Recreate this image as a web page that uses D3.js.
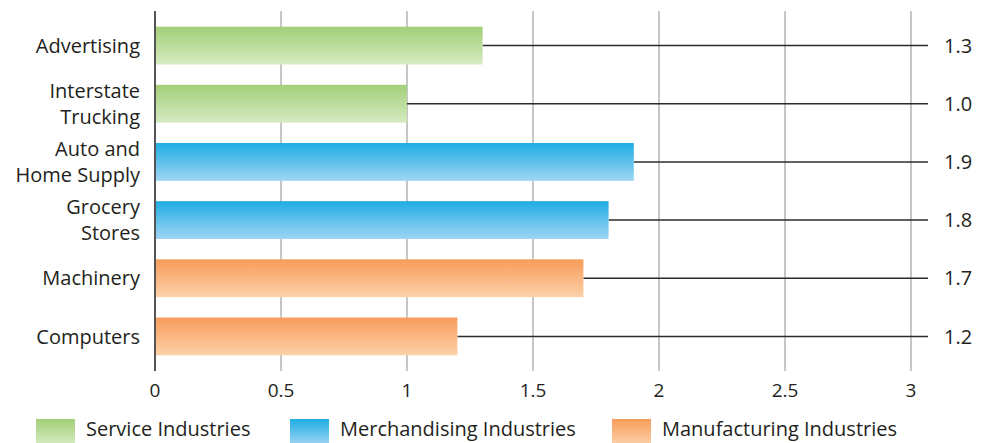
<!DOCTYPE html>
<html>
<head>
<meta charset="utf-8">
<script src="https://cdn.jsdelivr.net/npm/d3@7"></script>
<style>
  body { margin: 0; background: #fff; }
  text { font-family: "Open Sans", sans-serif; fill: #231f20; }
</style>
</head>
<body>
<svg id="chart"></svg>
<script>
// data
const categories = [["Advertising"], ["Interstate", "Trucking"], ["Auto and", "Home Supply"], ["Grocery", "Stores"], ["Machinery"], ["Computers"]];
const values = [1.3, 1.0, 1.9, 1.8, 1.7, 1.2];
const groups = ["service", "service", "merch", "merch", "manuf", "manuf"];
const legendNames = ["Service Industries", "Merchandising Industries", "Manufacturing Industries"];
const legendKeys = ["service", "merch", "manuf"];
const xTicks = [0, 0.5, 1, 1.5, 2, 2.5, 3];

const width = 989, height = 443;
const colors = {
  service: ["#a2cf78", "#d6ebc2"],
  merch: ["#1fade3", "#9fd5f3"],
  manuf: ["#f79c5a", "#fdd1a9"]
};

const svg = d3.select("#chart").attr("width", width).attr("height", height);

// gradients for the bars
const defs = svg.append("defs");
legendKeys.forEach(k => {
  const g = defs.append("linearGradient").attr("id", "grad-" + k)
    .attr("x1", 0).attr("y1", 0).attr("x2", 0).attr("y2", 1);
  g.append("stop").attr("offset", "0%").attr("stop-color", colors[k][0]);
  g.append("stop").attr("offset", "100%").attr("stop-color", colors[k][1]);
});

const x = d3.scaleLinear().domain([0, 3]).range([155, 911]);
const y = d3.scaleBand().domain(d3.range(categories.length))
  .range([16.5, 365.5]).paddingInner(0.35).paddingOuter(0.175);

// vertical grid
svg.append("g").selectAll("line")
  .data(xTicks.slice(1))
  .enter().append("line")
  .attr("x1", d => x(d)).attr("x2", d => x(d))
  .attr("y1", 11).attr("y2", 371)
  .attr("stroke", "#b8b8b8").attr("stroke-width", 1.6);

// leader lines to the value labels
svg.append("g").selectAll("line")
  .data(values)
  .enter().append("line")
  .attr("x1", d => x(d)).attr("x2", 928)
  .attr("y1", (d, i) => y(i) + y.bandwidth() / 2)
  .attr("y2", (d, i) => y(i) + y.bandwidth() / 2)
  .attr("stroke", "#2b2b2b").attr("stroke-width", 1.5);

// bars
svg.append("g").selectAll("rect")
  .data(values)
  .enter().append("rect")
  .attr("x", x(0))
  .attr("y", (d, i) => y(i))
  .attr("width", d => x(d) - x(0))
  .attr("height", y.bandwidth())
  .attr("fill", (d, i) => `url(#grad-${groups[i]})`);

// axis line
svg.append("line")
  .attr("x1", x(0)).attr("x2", x(0))
  .attr("y1", 11).attr("y2", 371)
  .attr("stroke", "#555").attr("stroke-width", 2);

// value labels
svg.append("g").selectAll("text")
  .data(values)
  .enter().append("text")
  .attr("x", 944)
  .attr("y", (d, i) => y(i) + y.bandwidth() / 2)
  .attr("dy", "0.36em")
  .style("font-size", "20px")
  .text(d => d.toFixed(1));

// category labels (one or two lines)
const cat = svg.append("g").selectAll("text")
  .data(categories)
  .enter().append("text")
  .attr("text-anchor", "end")
  .style("font-size", "20px")
  .attr("y", (d, i) => y(i) + y.bandwidth() / 2);
cat.each(function (lines) {
  const t = d3.select(this);
  lines.forEach((l, j) => {
    t.append("tspan").attr("x", 140)
      .attr("dy", j === 0 ? (lines.length === 1 ? "0.36em" : "-0.3em") : "1.3em")
      .text(l);
  });
});

// x tick labels
svg.append("g").selectAll("text")
  .data(xTicks)
  .enter().append("text")
  .attr("x", d => x(d))
  .attr("y", 397)
  .attr("text-anchor", "middle")
  .style("font-size", "19px")
  .text(d => d);

// legend
const legendX = [36, 290, 612];
const lg = svg.append("g").selectAll("g")
  .data(legendKeys)
  .enter().append("g")
  .attr("transform", (d, i) => `translate(${legendX[i]},419)`);
lg.append("rect").attr("width", 39).attr("height", 26)
  .attr("fill", d => `url(#grad-${d})`);
lg.append("text").attr("x", 50).attr("y", 17)
  .style("font-size", "20px")
  .text((d, i) => legendNames[i]);
</script>
</body>
</html>
